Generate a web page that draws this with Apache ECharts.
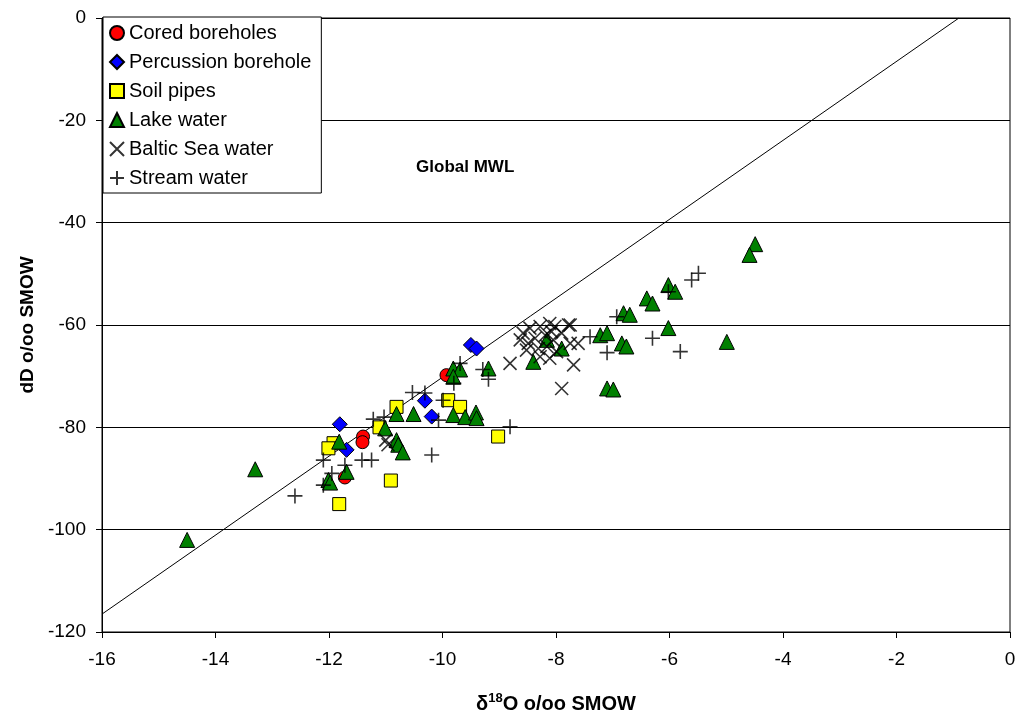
<!DOCTYPE html>
<html><head><meta charset="utf-8">
<script src="https://cdn.jsdelivr.net/npm/echarts@6/dist/echarts.min.js"></script>
<style>html,body{margin:0;padding:0;background:#fff}#c{width:1016px;height:717px}</style>
</head><body><div id="c"></div>
<script>
const seriesNames = ['Cored boreholes','Percussion borehole','Soil pipes','Lake water','Baltic Sea water','Stream water'];
const xTicks = [-16,-14,-12,-10,-8,-6,-4,-2,0];
const yTicks = [-120,-100,-80,-60,-40,-20,0];
const cored = [[-9.93,-69.8],[-11.40,-81.8],[-11.41,-82.9],[-11.72,-89.8]];
const percussion = [[-9.50,-63.9],[-9.40,-64.6],[-10.31,-74.8],[-10.19,-77.9],[-11.81,-79.4],[-11.69,-84.4]];
const soil = [[-10.81,-76.0],[-9.90,-74.7],[-9.69,-76.0],[-11.11,-80.0],[-11.92,-83.1],[-12.01,-84.1],[-10.91,-90.4],[-11.82,-95.0],[-9.02,-81.8]];
const lake = [[-14.5,-102],[-13.3,-88.2],[-12.01,-90.3],[-11.98,-90.8],[-11.69,-88.7],[-11.82,-82.8],[-11.01,-80.2],[-10.81,-77.4],[-10.51,-77.4],[-10.81,-82.5],[-10.78,-83.4],[-10.70,-84.9],[-9.81,-77.6],[-9.60,-78.0],[-9.41,-77.1],[-9.40,-78.2],[-9.81,-68.5],[-9.69,-68.7],[-9.81,-70.1],[-9.19,-68.5],[-8.40,-67.2],[-8.16,-62.9],[-7.90,-64.6],[-7.22,-62.0],[-7.10,-61.6],[-6.84,-63.6],[-6.76,-64.2],[-7.10,-72.4],[-6.99,-72.6],[-6.81,-57.7],[-6.70,-58.0],[-6.40,-54.8],[-6.30,-55.8],[-6.02,-52.2],[-5.90,-53.5],[-6.02,-60.6],[-4.99,-63.3],[-4.49,-44.2],[-4.59,-46.3]];
const baltic = [[-8.58,-61.6],[-8.49,-63.6],[-8.46,-60.6],[-8.37,-62.6],[-8.31,-64.6],[-8.28,-60.3],[-8.19,-62.0],[-8.16,-64.2],[-8.11,-59.7],[-8.08,-61.3],[-8.05,-62.9],[-8.02,-60.3],[-7.99,-65.2],[-7.90,-61.6],[-7.78,-60.0],[-7.75,-63.6],[-7.61,-63.6],[-7.69,-67.8],[-7.90,-72.4],[-8.28,-66.2],[-8.11,-66.5],[-8.63,-62.9],[-8.52,-64.9],[-8.81,-67.5],[-11.0,-82.5],[-10.96,-83.4],[-7.75,-60.0]];
const stream = [[-12.6,-93.4],[-12.1,-86.4],[-12.1,-91.3],[-11.95,-89.0],[-11.72,-87.4],[-11.42,-86.4],[-11.25,-86.4],[-11.22,-78.4],[-11.03,-78.0],[-10.53,-73.2],[-10.31,-73.3],[-10.19,-85.4],[-10.07,-78.6],[-9.99,-74.7],[-9.69,-67.5],[-9.80,-71.4],[-9.29,-68.7],[-9.19,-70.6],[-8.81,-79.9],[-7.40,-62.3],[-7.10,-65.4],[-6.93,-58.4],[-6.30,-62.6],[-5.81,-65.2],[-6.02,-53.5],[-5.61,-51.2],[-5.49,-49.9]];
const mwl = [[-16,-116.5],[-0.9,0]];
const mwlLabel = 'Global MWL';
const mwlLabelAt = [-9.6,-29.2];

const FONT = '"Liberation Sans", Arial, sans-serif';
const chart = echarts.init(document.getElementById('c'), null, {renderer:'canvas'});
const X_PATH = 'path://M0,0L10,10M10,0L0,10';
const PLUS_PATH = 'path://M5,0L5,10M0,5L10,5';
function sc(name, data, symbol, size, color, extra){
  return Object.assign({
    name, type:'scatter', data, symbol, symbolSize:size,
    itemStyle:{color, borderColor:'#000', borderWidth:1, opacity:1},
    emphasis:{disabled:true}
  }, extra||{});
}
chart.setOption({
  animation:false,
  backgroundColor:'#fff',
  textStyle:{fontFamily:FONT},
  grid:{left:102, right:6, top:18, bottom:85, outerBoundsMode:'none', containLabel:false, show:true, borderColor:'#000', borderWidth:1, backgroundColor:'transparent'},
  legend:{
    orient:'vertical', left:103, top:17, data:seriesNames,
    backgroundColor:'#fff', borderColor:'#000', borderWidth:1, borderRadius:0,
    padding:[6,10,5,6], itemGap:9, itemWidth:14, itemHeight:14,
    textStyle:{fontFamily:FONT, fontSize:20, color:'#000', padding:[0,0,0,0]}
  },
  xAxis:{
    type:'value', min:-16, max:0, interval:2,
    name:'{d|δ}{s|18}{d|O o/oo SMOW}', nameLocation:'middle', nameGap:60,
    nameTextStyle:{rich:{d:{fontFamily:FONT,fontSize:20,fontWeight:'bold',color:'#000',verticalAlign:'bottom'},s:{fontFamily:FONT,fontSize:13,fontWeight:'bold',color:'#000',verticalAlign:'top',padding:[0,0,9,0]}}},
    axisLine:{onZero:false, lineStyle:{color:'#000',width:1}},
    axisTick:{show:true, length:6, inside:false, lineStyle:{color:'#000'}},
    axisLabel:{color:'#000', fontSize:19, fontFamily:FONT, margin:18, formatter:v=>xTicks.includes(v)?String(v):''},
    splitLine:{show:false}
  },
  yAxis:{
    type:'value', min:-120, max:0, interval:20,
    name:'dD o/oo SMOW', nameLocation:'middle', nameGap:59, nameRotate:90,
    nameTextStyle:{fontFamily:FONT,fontSize:19,fontWeight:'bold',color:'#000'},
    axisLine:{onZero:false, lineStyle:{color:'#000',width:1}},
    axisTick:{show:true, length:6, inside:false, lineStyle:{color:'#000'}},
    axisLabel:{color:'#000', fontSize:19, fontFamily:FONT, margin:16, formatter:v=>yTicks.includes(v)?String(v):''},
    splitLine:{show:true, lineStyle:{color:'#000', width:1}}
  },
  series:[
    {name:'MWL', type:'line', data:mwl, symbol:'none', lineStyle:{color:'#000',width:1}, silent:true, z:1,
     markPoint:{symbol:'rect', symbolSize:1, itemStyle:{color:'transparent'}, silent:true,
       data:[{coord:mwlLabelAt, value:mwlLabel}],
       label:{show:true, formatter:mwlLabel, color:'#000', fontFamily:FONT, fontSize:17, fontWeight:'bold', position:'inside'}}},
    sc(seriesNames[0], cored, 'circle', 13, '#ff0000'),
    sc(seriesNames[1], percussion, 'diamond', 15, '#0000ff'),
    sc(seriesNames[2], soil, 'rect', 13, '#ffff00'),
    sc(seriesNames[3], lake, 'triangle', 15, '#008000'),
    sc(seriesNames[4], baltic, X_PATH, 13, 'transparent', {itemStyle:{color:'transparent', borderColor:'#000', borderWidth:1.6}}),
    sc(seriesNames[5], stream, PLUS_PATH, 15, 'transparent', {itemStyle:{color:'transparent', borderColor:'#000', borderWidth:1.6}})
  ]
});
</script></body></html>
